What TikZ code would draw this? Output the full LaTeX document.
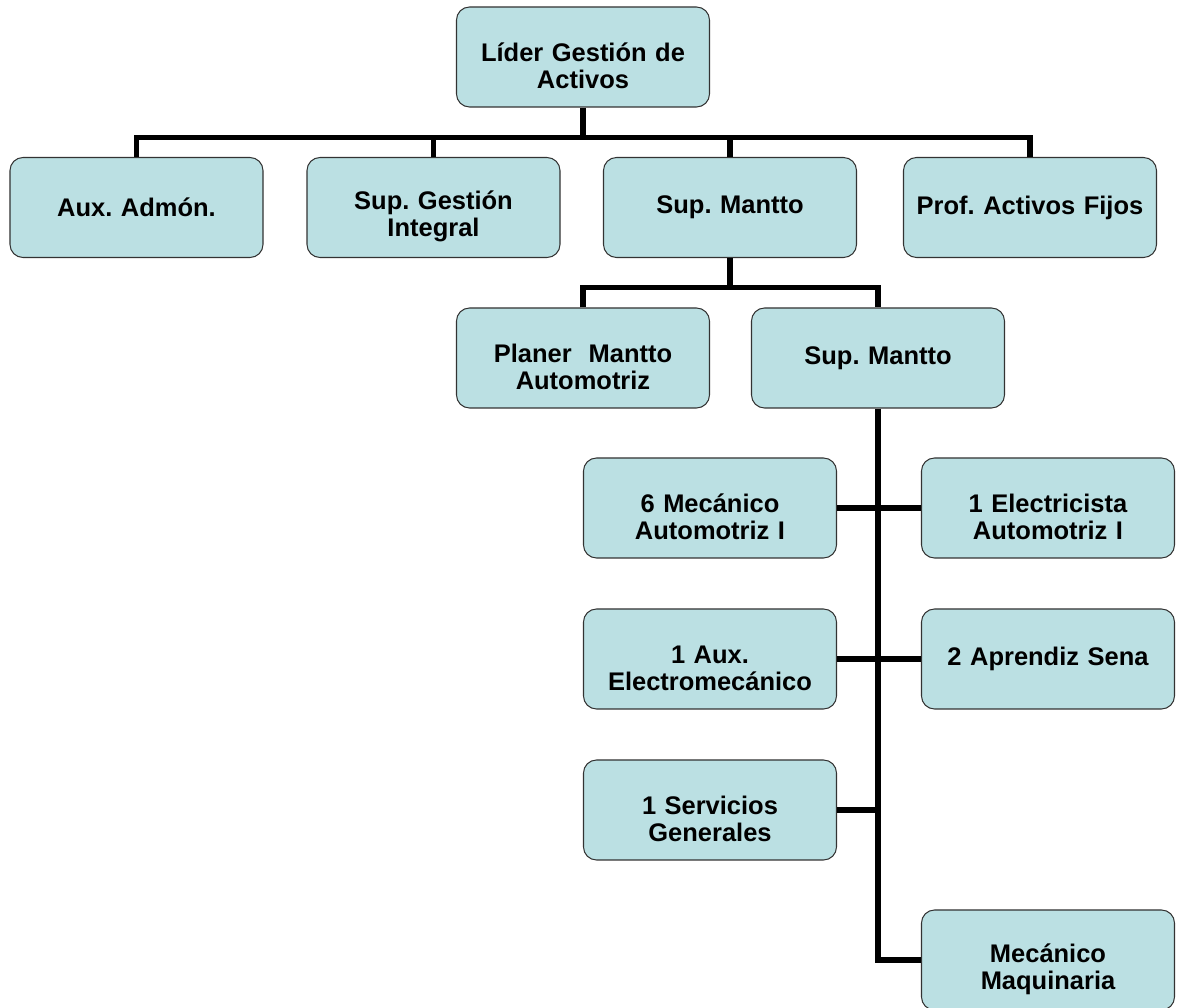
\documentclass[tikz,border=0pt]{standalone}
\usepackage{fontspec}
\setmainfont{Liberation Sans}
\usepackage{tikz}
\usetikzlibrary{positioning,calc}
\definecolor{Cell}{HTML}{BBE0E3}
\definecolor{Edge}{HTML}{333333}
\frenchspacing

\begin{document}
\begin{tikzpicture}[
  unitbox/.style={draw=Edge,line width=0.6pt,fill=Cell,rounded corners=0.26cm,
    align=center,text width=4.7cm,minimum width=5.06cm,minimum height=2cm,
    font=\bfseries\fontsize{14.5}{15.5}\selectfont},
  twoline/.style={unitbox,execute at begin node={\rule{0pt}{21pt}}},
  link/.style={line width=3.2pt,draw=black}
]
\useasboundingbox (0,0) rectangle (23.54,-20.16);
\node[twoline] (lider) at (11.66,-1.14) {Líder Gestión de\\Activos};
\node[unitbox] (aux) at (2.73,-4.15) {Aux. Admón.};
\node[twoline] (gestion) at (8.67,-4.15) {Sup. Gestión\\Integral};
\node[unitbox] (mantto) at (14.6,-4.15) {Sup. Mantto};
\node[unitbox] (activos) at (20.6,-4.15) {Prof. Activos Fijos};
\node[twoline] (planer) at (11.66,-7.16) {Planer~ Mantto\\Automotriz};
\node[unitbox] (manttoB) at (17.56,-7.16) {Sup. Mantto};
\node[twoline] (mecanico) at (14.2,-10.16) {6 Mecánico\\Automotriz I};
\node[twoline] (electricista) at (20.96,-10.16) {1 Electricista\\Automotriz I};
\node[twoline] (auxelec) at (14.2,-13.18) {1 Aux.\\Electromecánico};
\node[unitbox] (aprendiz) at (20.96,-13.18) {2 Aprendiz Sena};
\node[twoline] (servicios) at (14.2,-16.2) {1 Servicios\\Generales};
\node[twoline] (maquinaria) at (20.96,-19.2) {Mecánico\\Maquinaria};
\coordinate (busA) at ($(lider.south)+(0,-0.6)$);
\coordinate (busB) at ($(mantto.south)+(0,-0.59)$);
\draw[link] (lider.south) -- (busA);
\draw[link] (aux.north) |- (busA) -| (activos.north);
\draw[link] (gestion.north) -- (gestion.north |- busA);
\draw[link] (mantto.north) -- (mantto.north |- busA);
\draw[link] (mantto.south) -- (busB);
\draw[link] (planer.north) |- (busB) -| (manttoB.north);
\draw[link] (manttoB.south) |- (maquinaria.west);
\draw[link] (mecanico.east) -- (electricista.west);
\draw[link] (auxelec.east) -- (aprendiz.west);
\draw[link] (servicios.east) -- (servicios.east -| manttoB.south);
\end{tikzpicture}
\end{document}
